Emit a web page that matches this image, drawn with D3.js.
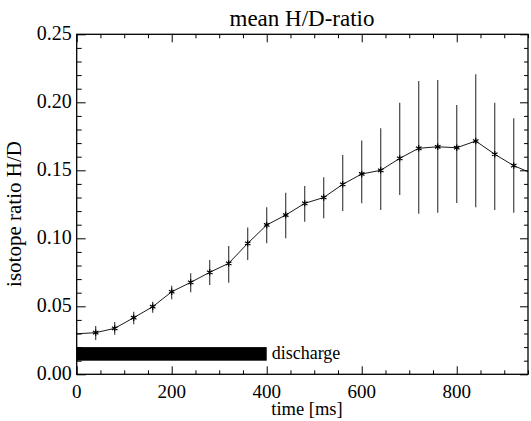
<!DOCTYPE html>
<html>
<head>
<meta charset="utf-8">
<script src="https://cdn.jsdelivr.net/npm/d3@7"></script>
<style>
  body { margin: 0; background: #fff; }
</style>
</head>
<body>
<svg id="chart" width="531" height="421"></svg>
<script>
// mean H/D ratio vs. time, with error bars and the discharge window
const times  = [40, 80, 120, 160, 200, 240, 280, 320, 360, 400, 440, 480, 520, 560, 600, 640, 680, 720, 760, 800, 840, 880, 920];
const means  = [0.0306, 0.0338, 0.0416, 0.0497, 0.0607, 0.0676, 0.0750, 0.0816, 0.0963, 0.1098, 0.1171, 0.1257, 0.1300, 0.1397, 0.1473, 0.1500, 0.1588, 0.1662, 0.1673, 0.1666, 0.1715, 0.1618, 0.1534];
const errLo  = [0.0253, 0.0290, 0.0368, 0.0453, 0.0551, 0.0603, 0.0657, 0.0674, 0.0840, 0.0963, 0.1000, 0.1122, 0.1147, 0.1200, 0.1257, 0.1208, 0.1318, 0.1180, 0.1188, 0.1260, 0.1228, 0.1208, 0.1188];
const errHi  = [0.0356, 0.0385, 0.0460, 0.0534, 0.0651, 0.0743, 0.0840, 0.0943, 0.1080, 0.1228, 0.1335, 0.1385, 0.1449, 0.1613, 0.1720, 0.1810, 0.1997, 0.2157, 0.2164, 0.1980, 0.2206, 0.1997, 0.1882];
// the curve runs on to both frame edges without markers
const edgeTimes  = [0, 950];
const edgeValues = [0.0298, 0.1490];
// discharge interval [ms] and its band height in ratio units
const discharge = [0, 400];
const dischargeBand = [0.010, 0.020];
const xMajor = [0, 200, 400, 600, 800];
const yMajor = [0.00, 0.05, 0.10, 0.15, 0.20, 0.25];

const FONT = '"Liberation Serif", "DejaVu Serif", serif';
const svg = d3.select('#chart');
const L = 76.7, R = 528, T = 34.3, B = 374.3;
const x = d3.scaleLinear().domain([0, 950]).range([L, R]);
const y = d3.scaleLinear().domain([0, 0.25]).range([B, T]);

// ticks (inward, on all four sides)
const xMinor = d3.range(0, 951, 50).filter(v => v % 200 !== 0);
const yMinor = d3.range(0, 26, 1).map(v => v / 100).filter(v => Math.round(v * 100) % 5 !== 0);
svg.append('g').attr('transform', `translate(0,${B})`)
  .call(d3.axisBottom(x).tickValues(xMajor).tickSize(-8).tickFormat(''));
svg.append('g').attr('transform', `translate(0,${B})`)
  .call(d3.axisBottom(x).tickValues(xMinor).tickSize(-4).tickFormat(''));
svg.append('g').attr('transform', `translate(0,${T})`)
  .call(d3.axisTop(x).tickValues(xMajor).tickSize(-8).tickFormat(''));
svg.append('g').attr('transform', `translate(0,${T})`)
  .call(d3.axisTop(x).tickValues(xMinor).tickSize(-4).tickFormat(''));
svg.append('g').attr('transform', `translate(${L},0)`)
  .call(d3.axisLeft(y).tickValues(yMajor).tickSize(-9).tickFormat(''));
svg.append('g').attr('transform', `translate(${L},0)`)
  .call(d3.axisLeft(y).tickValues(yMinor).tickSize(-5).tickFormat(''));
svg.append('g').attr('transform', `translate(${R},0)`)
  .call(d3.axisRight(y).tickValues(yMajor).tickSize(-8).tickFormat(''));
svg.append('g').attr('transform', `translate(${R},0)`)
  .call(d3.axisRight(y).tickValues(yMinor).tickSize(-4).tickFormat(''));
svg.selectAll('.domain').remove();
svg.selectAll('.tick line').attr('stroke', '#000').attr('stroke-width', 1);

// frame
svg.append('rect').attr('x', L).attr('y', T).attr('width', R - L).attr('height', B - T)
  .attr('fill', 'none').attr('stroke', '#000').attr('stroke-width', 1.3);

const txt = svg.append('g').attr('font-family', FONT).attr('fill', '#000');

// tick labels
txt.append('g').selectAll('text').data(xMajor).enter().append('text')
  .attr('x', d => x(d)).attr('y', 398).attr('text-anchor', 'middle')
  .attr('font-size', 19).text(d => d);
txt.append('g').selectAll('text').data(yMajor).enter().append('text')
  .attr('x', L - 5).attr('y', d => y(d) + 6).attr('text-anchor', 'end')
  .attr('font-size', 20).text(d => d.toFixed(2));

// titles
txt.append('text').attr('x', 302).attr('y', 26).attr('text-anchor', 'middle')
  .attr('font-size', 23).text('mean H/D-ratio');
txt.append('text').attr('x', 307).attr('y', 415).attr('text-anchor', 'middle')
  .attr('font-size', 18.5).text('time [ms]');
txt.append('text').attr('transform', 'translate(21,214) rotate(-90)').attr('text-anchor', 'middle')
  .attr('font-size', 21).text('isotope ratio H/D');

// discharge bar
svg.append('rect')
  .attr('x', x(discharge[0])).attr('width', x(discharge[1]) - x(discharge[0]))
  .attr('y', y(dischargeBand[1])).attr('height', y(dischargeBand[0]) - y(dischargeBand[1]))
  .attr('fill', '#000');
txt.append('text').attr('x', x(discharge[1]) + 5).attr('y', y((dischargeBand[0] + dischargeBand[1]) / 2) + 5)
  .attr('font-size', 18).text('discharge');

// error bars
const pts = times.map((t, i) => ({ t, v: means[i], lo: errLo[i], hi: errHi[i] }));
svg.append('g').selectAll('line').data(pts).enter().append('line')
  .attr('x1', d => x(d.t)).attr('x2', d => x(d.t))
  .attr('y1', d => y(d.lo)).attr('y2', d => y(d.hi))
  .attr('stroke', '#333').attr('stroke-width', 1.1);

// curve
const curve = [{ t: edgeTimes[0], v: edgeValues[0] }, ...pts, { t: edgeTimes[1], v: edgeValues[1] }];
svg.append('path').datum(curve)
  .attr('d', d3.line().x(d => x(d.t)).y(d => y(d.v)))
  .attr('fill', 'none').attr('stroke', '#000').attr('stroke-width', 0.9);

// asterisk markers
svg.append('g').selectAll('path').data(pts).enter().append('path')
  .attr('transform', d => `translate(${x(d.t)},${y(d.v)})`)
  .attr('d', d3.symbol(d3.symbolAsterisk, 28))
  .attr('fill', 'none').attr('stroke', '#000').attr('stroke-width', 1.2);
</script>
</body>
</html>
